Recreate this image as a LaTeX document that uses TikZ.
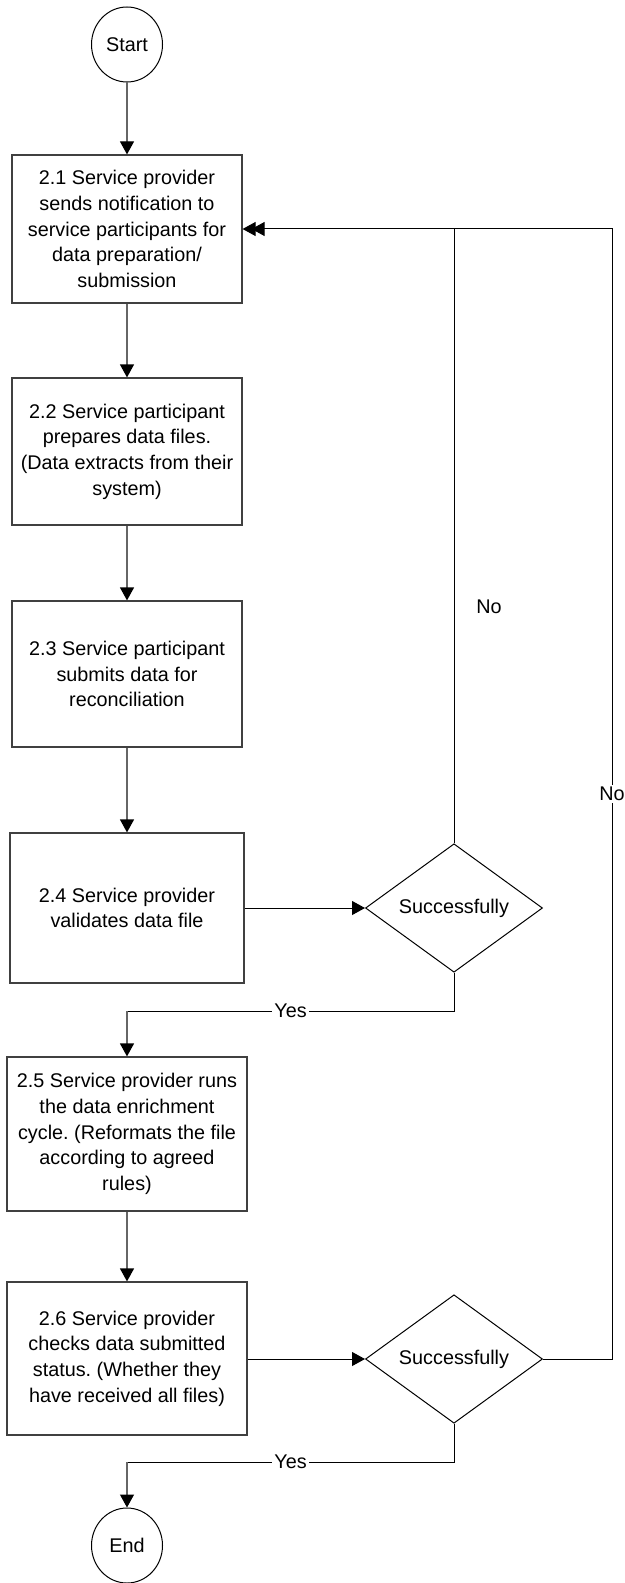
\documentclass[tikz,border=0pt]{standalone}
\usepackage{fontspec}
\setmainfont{Liberation Sans}
\usetikzlibrary{arrows.meta,shapes.geometric,calc}
\frenchspacing

\tikzset{
  tip/.style={-{Triangle[length=6.5pt,width=7pt,color=black]}},
  twotips/.style={-{Triangle[length=6.5pt,width=7pt,sep=-2pt]Triangle[length=6.5pt,width=7pt]}},
  stem/.style={draw=black!60, line width=0.6pt, tip},
  flow/.style={draw=black, line width=0.5pt},
  stepbox/.style={rectangle, draw=black!75, line width=0.6pt, inner sep=0pt,
    align=center, minimum width=#1},
  stepbox/.default=115pt,
  terminal/.style={ellipse, draw=black, line width=0.5pt, inner sep=0pt,
    minimum width=35.5pt, minimum height=37.5pt},
  decision/.style={diamond, draw=black, line width=0.5pt, inner sep=0pt,
    minimum width=88.5pt, minimum height=56pt},
  lbl/.style={fill=white, inner sep=1pt},
}

\begin{document}
\begin{tikzpicture}[x=0.5pt, y=-0.5pt, font=\fontsize{9.9}{12.8}\selectfont\frenchspacing]
  \useasboundingbox (0,0) rectangle (625,1583);

  % terminals
  \node[terminal] (start) at (127,44.5) {Start};
  \node[terminal] (end) at (127,1545.5) {End};

  % process steps
  \node[stepbox, minimum height=74pt] (s1) at (127,229)
    {2.1 Service provider\\sends notification to\\service participants for\\data preparation/\\submission};
  \node[stepbox, minimum height=73.5pt] (s2) at (127,451.5)
    {2.2 Service participant\\prepares data files.\\(Data extracts from their\\system)};
  \node[stepbox, minimum height=73pt] (s3) at (127,674)
    {2.3 Service participant\\submits data for\\reconciliation};
  \node[stepbox=117pt, minimum height=75pt] (s4) at (127,908)
    {2.4 Service provider\\validates data file};
  \node[stepbox=120pt, minimum height=77pt] (s5) at (127,1134)
    {2.5 Service provider runs\\the data enrichment\\cycle. (Reformats the file\\according to agreed\\rules)};
  \node[stepbox=120pt, minimum height=76.5pt] (s6) at (127,1358.5)
    {2.6 Service provider\\checks data submitted\\status. (Whether they\\have received all files)};

  % decisions
  \node[decision] (d1) at (454,908) {Successfully};
  \node[decision] (d2) at (454,1359) {Successfully};

  % helper points for the routed connectors
  \coordinate (j) at (454,229);
  \coordinate (c1) at (612,229);
  \coordinate (y1) at (127,1011);
  \coordinate (y2) at (127,1462);

  % main sequence
  \draw[stem] (start) -- (s1);
  \draw[stem] (s1) -- (s2);
  \draw[stem] (s2) -- (s3);
  \draw[stem] (s3) -- (s4);
  \draw[flow, tip] (s4) -- (d1);
  \draw[stem] (s5) -- (s6);
  \draw[flow, tip] (s6.east |- d2) -- (d2);

  % yes branches
  \draw[flow] (d1.south) |- node[pos=0.75, lbl] {Yes} (y1);
  \draw[stem] (y1) -- (s5.north);
  \draw[flow] (d2.south) |- node[pos=0.75, lbl] {Yes} (y2);
  \draw[stem] (y2) -- (end.north);

  % no branches back to step 2.1
  \draw[flow, twotips] (d1.north) |- (s1.east);
  \node at (489,607) {No};
  \draw[flow] (d2.east) -| node[pos=0.75, lbl] {No} (c1) -- (j);
\end{tikzpicture}
\end{document}
